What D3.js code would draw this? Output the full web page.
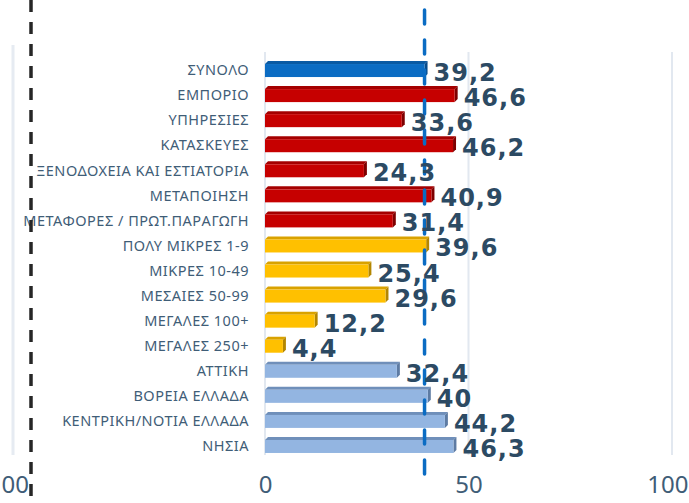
<!DOCTYPE html>
<html>
<head>
<meta charset="utf-8">
<script src="https://cdn.jsdelivr.net/npm/d3@7"></script>
<style>
  body { margin: 0; background: #fff; }
  svg { display: block; }
</style>
</head>
<body>
<div id="chart"></div>
<script>
// data
var categories = ["ΣΥΝΟΛΟ", "ΕΜΠΟΡΙΟ", "ΥΠΗΡΕΣΙΕΣ", "ΚΑΤΑΣΚΕΥΕΣ", "ΞΕΝΟΔΟΧΕΙΑ ΚΑΙ ΕΣΤΙΑΤΟΡΙΑ",
  "ΜΕΤΑΠΟΙΗΣΗ", "ΜΕΤΑΦΟΡΕΣ / ΠΡΩΤ.ΠΑΡΑΓΩΓΗ", "ΠΟΛΥ ΜΙΚΡΕΣ 1-9", "ΜΙΚΡΕΣ 10-49", "ΜΕΣΑΙΕΣ 50-99",
  "ΜΕΓΑΛΕΣ 100+", "ΜΕΓΑΛΕΣ 250+", "ΑΤΤΙΚΗ", "ΒΟΡΕΙΑ ΕΛΛΑΔΑ", "ΚΕΝΤΡΙΚΗ/ΝΟΤΙΑ ΕΛΛΑΔΑ", "ΝΗΣΙΑ"];
var values = [39.2, 46.6, 33.6, 46.2, 24.3, 40.9, 31.4, 39.6, 25.4, 29.6, 12.2, 4.4, 32.4, 40, 44.2, 46.3];
var groups = ["total", "sector", "sector", "sector", "sector", "sector", "sector",
  "size", "size", "size", "size", "size", "region", "region", "region", "region"];
var xTicks = [0, 50, 100];
var totalValue = 39.2;   // blue dashed reference line
var leftPanelTicks = [100]; // last gridline of the cut-off panel on the left
var leftPanelLabels = ["00"]; // what is left visible of its tick label

var colors = {
  total:  {front: "#0b6cc3", top: "#0a5aa3", side: "#064a8a"},
  sector: {front: "#c60000", top: "#a50000", side: "#7e0000"},
  size:   {front: "#ffc000", top: "#d9a200", side: "#b38600"},
  region: {front: "#93b5e1", top: "#6f8fba", side: "#5d7ba3"}
};

var width = 689, height = 503;
var depth = 3, barH = 13;
var textColor = "#3f5d77";

var svg = d3.select("#chart").append("svg")
  .attr("width", width)
  .attr("height", height);

var x = d3.scaleLinear().domain([0, 100]).range([265, 672]);
var y = d3.scaleBand().domain(categories).range([57.5, 458.5]);
// the cut-off panel on the left only shows its last gridline
var xLeft = d3.scaleLinear().domain([0, 100]).range([-394, 13]);

var rows = categories.map(function(c, i) {
  return {cat: c, value: values[i], group: groups[i]};
});

// gridlines
var grid = svg.append("g");
grid.selectAll("line.grid")
  .data(xTicks)
  .enter().append("line")
  .attr("class", "grid")
  .attr("x1", d => x(d)).attr("x2", d => x(d))
  .attr("y1", 52).attr("y2", 455)
  .attr("stroke", "#e2e8f0")
  .attr("stroke-width", 2);
grid.selectAll("line.gridl")
  .data(leftPanelTicks)
  .enter().append("line")
  .attr("class", "gridl")
  .attr("x1", d => xLeft(d)).attr("x2", d => xLeft(d))
  .attr("y1", 45).attr("y2", 455)
  .attr("stroke", "#e6ebf2")
  .attr("stroke-width", 3);

// bars, drawn as 3d blocks
var bars = svg.append("g").selectAll("g.bar")
  .data(rows)
  .enter().append("g")
  .attr("class", "bar");

function cy(d) { return y(d.cat) + y.bandwidth() / 2; }

bars.append("path")
  .attr("d", function(d) {
    var x0 = x(0), x1 = x(d.value), t = cy(d) - barH / 2 + 0.5;
    return "M" + x0 + "," + t + "L" + (x0 + depth) + "," + (t - depth) +
      "L" + (x1 + depth) + "," + (t - depth) + "L" + x1 + "," + t + "Z";
  })
  .attr("fill", d => colors[d.group].top);
bars.append("path")
  .attr("d", function(d) {
    var x1 = x(d.value), t = cy(d) - barH / 2 + 0.5;
    return "M" + x1 + "," + t + "L" + (x1 + depth) + "," + (t - depth) +
      "L" + (x1 + depth) + "," + (t - depth + barH) + "L" + x1 + "," + (t + barH) + "Z";
  })
  .attr("fill", d => colors[d.group].side);
bars.append("rect")
  .attr("x", x(0))
  .attr("y", d => cy(d) - barH / 2 + 0.5)
  .attr("width", d => x(d.value) - x(0))
  .attr("height", barH)
  .attr("fill", d => colors[d.group].front);

// category labels
svg.append("g").selectAll("text")
  .data(rows)
  .enter().append("text")
  .attr("x", 249)
  .attr("y", d => cy(d))
  .attr("dy", "0.36em")
  .attr("text-anchor", "end")
  .attr("font-family", "'Noto Sans', sans-serif")
  .attr("font-size", 14.5)
  .attr("letter-spacing", 0.5)
  .attr("fill", textColor)
  .text(d => d.cat);

// reference line for the total
svg.append("line")
  .attr("x1", x(totalValue)).attr("x2", x(totalValue))
  .attr("y1", 10).attr("y2", 485)
  .attr("stroke", "#0b6cc3")
  .attr("stroke-width", 3.5)
  .attr("stroke-linecap", "round")
  .attr("stroke-dasharray", "14,16");

// value labels
svg.append("g").selectAll("text")
  .data(rows)
  .enter().append("text")
  .attr("x", d => x(d.value) + depth + 6)
  .attr("y", d => cy(d) + 11)
  .attr("font-family", "'DejaVu Sans', sans-serif")
  .attr("font-weight", "bold")
  .attr("font-size", 24)
  .attr("letter-spacing", 1)
  .attr("fill", "#2c4a63")
  .text(d => String(d.value).replace(".", ","));

// x axis
var xAxis = svg.append("g")
  .attr("transform", "translate(0,476)")
  .call(d3.axisBottom(x).tickValues(xTicks).tickSize(0).tickPadding(0));
xAxis.select(".domain").remove();
xAxis.selectAll("text")
  .attr("font-family", "'Noto Sans', sans-serif")
  .attr("font-size", 24)
  .attr("fill", textColor);
// keep the last label inside the frame, as in the picture
xAxis.selectAll(".tick").filter(d => d === 100).select("text")
  .attr("text-anchor", "end")
  .attr("dx", 16);

var leftAxis = svg.append("g")
  .attr("transform", "translate(0,476)")
  .call(d3.axisBottom(xLeft).tickValues(leftPanelTicks)
    .tickFormat((d, i) => leftPanelLabels[i]).tickSize(0).tickPadding(0));
leftAxis.select(".domain").remove();
leftAxis.selectAll("text")
  .attr("text-anchor", "start")
  .attr("dx", -12)
  .attr("font-family", "'Noto Sans', sans-serif")
  .attr("font-size", 24)
  .attr("fill", textColor);

// black dashed marker on the far left
svg.append("line")
  .attr("x1", 31).attr("x2", 31)
  .attr("y1", 0).attr("y2", height)
  .attr("stroke", "#262626")
  .attr("stroke-width", 3.5)
  .attr("stroke-dasharray", "12,10");
</script>
</body>
</html>
